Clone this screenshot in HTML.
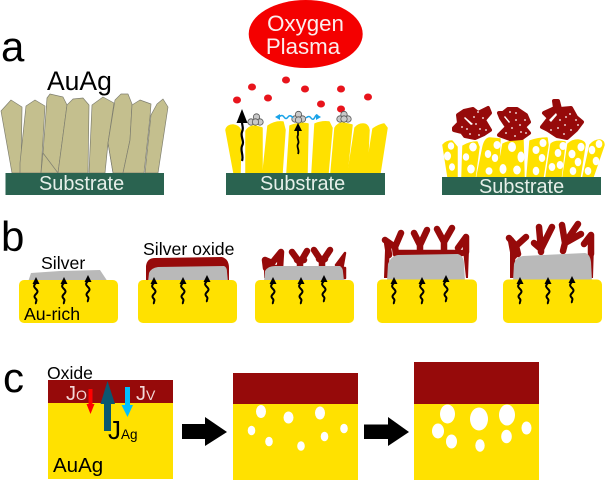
<!DOCTYPE html>
<html>
<head>
<meta charset="utf-8">
<style>
html,body{margin:0;padding:0;background:#fff;width:605px;height:482px;overflow:hidden}
svg{display:block;font-family:"Liberation Sans",sans-serif;filter:blur(0.35px)}
</style>
</head>
<body>
<svg width="605" height="482" viewBox="0 0 605 482" xmlns="http://www.w3.org/2000/svg">
<defs>
<g id="wa">
<path d="M0 6 C-3 9 -2 10 0 12 C2 14 2 15 0 17 C-2 19 -2 20 0 22 C1.500 24 -1 25 0 27" fill="none" stroke="#000" stroke-width="2"/>
<path d="M0 0 L3.500 7 L-3.500 7 Z" fill="#000"/>
</g>
</defs>

<!-- Panel letters -->
<text x="1" y="61" font-size="42">a</text>
<text x="1" y="251" font-size="42">b</text>
<text x="3" y="392" font-size="42">c</text>

<!-- a: left -->
<g fill="#c4bf8e" stroke="#7f7f70" stroke-width="0.700" stroke-linejoin="round">
<polygon points="1,111 11,100 22,107 21,173 12,173"/>
<polygon points="20,163 26,106 35,100 45,106 41,173 20,173"/>
<polygon points="47,98 50,94 63,97 67,105 58,173 41,173 43,153"/>
<polygon points="67,105 73,99 83,98 89,105 88,173 58,173"/>
<polygon points="92,105 103,97 114,103 108,143 105,173 89,173"/>
<polygon points="115,100 121,94 128,94 132,104 130,140 123,173 113,173 108,143"/>
<polygon points="132,105 140,100 151,104 150,117 144,173 123,173 130,140"/>
<polygon points="151,115 157,104 163,99 168,107 158,173 145,173"/>
<path d="M43 153 L58 173 M108 143 L113 173" fill="none"/>
</g>
<text x="47" y="90" font-size="26.500">AuAg</text>
<rect x="5.500" y="173" width="158.500" height="22" fill="#2a6350"/>
<text x="39" y="190" font-size="19.900" fill="#e6efe9">Substrate</text>

<!-- a: middle -->
<ellipse cx="305.700" cy="34" rx="57" ry="34" fill="#f40000"/>
<text x="305.500" y="31" font-size="22.300" fill="#fbeeee" text-anchor="middle">Oxygen</text>
<text x="303" y="54" font-size="22.300" fill="#fbeeee" text-anchor="middle">Plasma</text>
<g fill="#ffe100" stroke="#ffe100" stroke-width="1.500" stroke-linejoin="round">
<path d="M226 130 Q227 125 233 125 Q240 126 241 132 L240 173 L234 173 Z"/>
<path d="M246 131 Q249 126 255 126 L262 128 L262 173 L246 173 Z"/>
<path d="M268 126 Q275 121 283 122 L285 130 L282 173 L263 173 Z"/>
<path d="M290 126 Q300 122 308 124 L307 173 L287 173 Z"/>
<path d="M315 124 Q322 121 329 122 L332 128 L328 173 L312 173 Z"/>
<path d="M335 128 Q338 123 343 123 L352 125 L347 173 L331 173 Z"/>
<path d="M355 128 Q358 124 363 124 Q368 124 369 130 L367 173 L348 173 Z"/>
<path d="M373 129 Q378 125 384 124 L387 128 L380 173 L366 173 Z"/>
</g>
<rect x="226" y="173" width="159" height="22" fill="#2a6350"/>
<text x="260" y="190" font-size="19.900" fill="#e6efe9">Substrate</text>
<g fill="#e8141c">
<ellipse cx="237" cy="100" rx="4" ry="3.500"/>
<ellipse cx="252" cy="87" rx="4" ry="3.500"/>
<ellipse cx="268" cy="98" rx="4" ry="3.500"/>
<ellipse cx="286" cy="80" rx="4" ry="3.500"/>
<ellipse cx="305" cy="89" rx="4" ry="3.500"/>
<ellipse cx="321" cy="104" rx="4" ry="3.500"/>
<ellipse cx="341" cy="89" rx="4" ry="3.500"/>
<ellipse cx="341" cy="109" rx="4" ry="3.500"/>
<ellipse cx="368" cy="97" rx="4" ry="3.500"/>
</g>
<g fill="#c9c9c9" stroke="#555" stroke-width="0.800">
<circle cx="251" cy="122" r="3.200"/><circle cx="256.500" cy="117" r="3.200"/><circle cx="260" cy="122" r="3.200"/><circle cx="255.500" cy="122" r="3.200"/>
<circle cx="295" cy="119" r="3.200"/><circle cx="298.500" cy="114.500" r="3.200"/><circle cx="302.500" cy="119" r="3.200"/><circle cx="298.500" cy="120" r="3.200"/>
<circle cx="340" cy="119" r="3.200"/><circle cx="344" cy="114.500" r="3.200"/><circle cx="348" cy="119" r="3.200"/><circle cx="344" cy="119" r="3.200"/>
</g>
<path d="M242 161 C244 155 240 151 242 146 C245 141 240 137 242 132 C244 128 242 126 242 122" fill="none" stroke="#000" stroke-width="2.200"/>
<polygon points="242,109 247.500,123 236.500,123" fill="#000"/>
<path d="M298 154 C300 150 296 147 298 144 C300 141 296 138 298 135 L298 130" fill="none" stroke="#000" stroke-width="1.800"/>
<polygon points="298,123 302,131 294,131" fill="#000"/>
<g fill="none" stroke="#1aa3e8" stroke-width="1.500">
<path d="M279 117 Q282 114 284 117 T288 117 T293 118"/>
<path d="M306 118 Q309 115 311 118 T315 117 T318 117"/>
</g>
<polygon points="275,117 280,114 280,120" fill="#1aa3e8"/>
<polygon points="321,117 316,114 316,120" fill="#1aa3e8"/>

<!-- a: right -->
<g fill="#ffe100" stroke="#ffe100" stroke-width="1.500" stroke-linejoin="round">
<path d="M443 145 Q446 141 452 141 L457 147 L457 177 L448 177 Z"/>
<path d="M463 146 Q470 142 477 142 L479 147 L475 177 L462 177 Z"/>
<path d="M483 147 Q485 138 490 138 L500 139 L498 177 L477 177 Z"/>
<path d="M503 144 Q512 140 523 140 L524 177 L497 177 Z"/>
<path d="M530 141 Q538 138 547 138 L548 145 L543 177 L527 177 Z"/>
<path d="M551 144 Q555 140 565 142 L561 177 L546 177 Z"/>
<path d="M568 144 Q572 140 578 140 Q585 141 585 145 L580 177 L563 177 Z"/>
<path d="M590 145 Q594 140 600 140 Q604 141 604 145 L593 177 L583 177 Z"/>
</g>
<g fill="#fff">
<ellipse cx="451" cy="146" rx="3.200" ry="3.800"/><ellipse cx="447.500" cy="156" rx="3.500" ry="4.500"/><ellipse cx="452" cy="167" rx="3" ry="3.800"/>
<ellipse cx="473" cy="147" rx="3.800" ry="4.500"/><ellipse cx="466" cy="157" rx="3.200" ry="3.800"/><ellipse cx="471" cy="169" rx="3.800" ry="4.500"/>
<ellipse cx="497" cy="145" rx="3.500" ry="4"/><ellipse cx="488" cy="154" rx="3.200" ry="4"/><ellipse cx="495" cy="158" rx="3.200" ry="4"/><ellipse cx="489" cy="171" rx="3.500" ry="3.800"/>
<ellipse cx="512" cy="147" rx="4" ry="5"/><ellipse cx="521" cy="157" rx="3.500" ry="5.500"/><ellipse cx="503" cy="169" rx="3.500" ry="5"/><ellipse cx="517" cy="170" rx="3.800" ry="4.500"/>
<ellipse cx="536" cy="150" rx="3.500" ry="4"/><ellipse cx="543" cy="143" rx="3.500" ry="4"/><ellipse cx="542" cy="158" rx="3.200" ry="4"/><ellipse cx="536" cy="171" rx="3.300" ry="4.200"/>
<ellipse cx="563" cy="146" rx="3.500" ry="4"/><ellipse cx="558" cy="153" rx="3.300" ry="4"/><ellipse cx="560" cy="165" rx="3.300" ry="4"/><ellipse cx="552" cy="167" rx="3.300" ry="4"/>
<ellipse cx="581" cy="147" rx="3.500" ry="4.300"/><ellipse cx="572" cy="154" rx="3.500" ry="4.300"/><ellipse cx="578" cy="162" rx="3.300" ry="4.300"/><ellipse cx="573" cy="171" rx="3.300" ry="4"/>
<ellipse cx="592" cy="150" rx="3.300" ry="4.300"/><ellipse cx="599" cy="144" rx="3.300" ry="4"/><ellipse cx="596" cy="161" rx="3.300" ry="4.300"/><ellipse cx="588" cy="171" rx="3.300" ry="4"/>
</g>
<rect x="442" y="177" width="159" height="18" fill="#2a6350"/>
<text x="479" y="193" font-size="19.900" fill="#e6efe9">Substrate</text>
<g fill="#960a0a" stroke="#960a0a" stroke-width="4" stroke-linejoin="round">
<polygon points="454,128 459,123 458,115 464,111 473,109 478,113 488,108 490,113 484,120 490,130 484,134 475,138 465,136 462,132 454,130"/>
<polygon points="499,113 503,113 508,109 517,109 526,115 529,122 524,127 529,133 522,138 510,139 499,135 507,127 501,118"/>
<polygon points="554,101 558,101 560,109 571,108 576,117 582,122 576,130 567,138 557,136 548,130 542,127 549,118 544,113 555,108"/>
</g>
<g fill="#fff">
<polygon points="465,117 473,124 471,125 464,118"/>
<polygon points="549,120 556,113 557,115 551,122"/>
<polygon points="505,116 510,122 509,123 504,117"/>
<circle cx="478" cy="112" r="0.900"/><circle cx="483" cy="118" r="0.900"/><circle cx="476" cy="124" r="0.900"/><circle cx="486" cy="130" r="0.900"/><circle cx="470" cy="134" r="0.900"/><circle cx="462" cy="127" r="0.900"/><circle cx="479" cy="135" r="0.900"/><circle cx="467" cy="129" r="0.900"/><circle cx="474" cy="117" r="0.900"/><circle cx="480" cy="129" r="0.900"/>
<circle cx="510" cy="112" r="0.900"/><circle cx="516" cy="120" r="0.900"/><circle cx="516" cy="113" r="0.900"/><circle cx="525" cy="120" r="0.900"/><circle cx="512" cy="128" r="0.900"/><circle cx="521" cy="132" r="0.900"/><circle cx="506" cy="133" r="0.900"/><circle cx="515" cy="136" r="0.900"/><circle cx="526" cy="133" r="0.900"/><circle cx="520" cy="125" r="0.900"/>
<circle cx="570" cy="114" r="0.900"/><circle cx="576" cy="120" r="0.900"/><circle cx="565" cy="125" r="0.900"/><circle cx="571" cy="130" r="0.900"/><circle cx="558" cy="128" r="0.900"/><circle cx="551" cy="130" r="0.900"/><circle cx="564" cy="134" r="0.900"/><circle cx="578" cy="125" r="0.900"/><circle cx="560" cy="120" r="0.900"/><circle cx="566" cy="117" r="0.900"/>
</g>

<!-- b: oxide and silver -->
<!-- 1 -->
<path d="M28 282 L31 273 L60 271 L100 270 L108 282 Z" fill="#b9b9b9"/>
<text x="41" y="269" font-size="17.700">Silver</text>
<!-- 2 -->
<path d="M146 282 L146 266 Q147 258 155 258 L222 257 Q229 259 229 268 L229 282 Z" fill="#960a0a"/>
<path d="M148 282 L149 273 Q151 268 158 267 L224 266 Q227 267 227 272 L228 282 Z" fill="#b9b9b9"/>
<text x="143" y="255" font-size="17.700">Silver oxide</text>
<!-- 3 -->
<g fill="none" stroke="#960a0a" stroke-width="6.500" stroke-linecap="round" stroke-linejoin="round">
<path d="M265 260 L272 263 L281 252 M265 260 L266 268 L280 268 L281 252"/>
<path d="M292 252 L300 263 L307 251 M297 260 L304 260 M300 263 L300 266"/>
<path d="M314 250 L322 262 L330 250 M319 259 L325 259 M322 262 L322 266"/>
</g>
<path d="M345 253 L336 265 L338 268 L345 268 L345 278 L342 278 L342 270 Z" fill="#960a0a" stroke="#960a0a" stroke-width="2.500" stroke-linejoin="round"/>
<path d="M264 278 L264 262 L268 262 L268 278 Z" fill="#960a0a"/>
<path d="M264 281 L265 271 Q268 266 275 266 L340 266 Q343 268 343 272 L344 281 Z" fill="#b9b9b9"/>
<!-- 4 -->
<g fill="none" stroke="#960a0a" stroke-width="6.500" stroke-linecap="round" stroke-linejoin="round">
<path d="M385 240 L395 247 L401 233 M395 247 L396 254 M387 242 L389 255"/>
<path d="M414 233 L420 245 L427 230 M420 245 L420 252"/>
<path d="M437 229 L444 242 L452 228 M444 242 L444 252"/>
<path d="M466 237 L458 248 M466 237 L466 252"/>
<path d="M396 253 L462 253"/>
</g>
<path d="M385 250 L384 278 L388 278 L390 250 Z M463 250 L466 278 L468 278 L469 250 Z" fill="#960a0a"/>
<path d="M387 281 L388 264 Q391 256 398 255 L458 254 Q464 256 464 264 L465 281 Z" fill="#b9b9b9"/>
<!-- 5 -->
<g fill="none" stroke="#960a0a" stroke-width="6.500" stroke-linecap="round" stroke-linejoin="round">
<path d="M509 238 L516 246 L526 237 M516 246 L518 254 M511 240 L514 256"/>
<path d="M534 243 L541 249 L539 227 M541 249 L552 227 M541 249 L541 252"/>
<path d="M562 225 L565 243 L578 224 M565 243 L581 234 M565 243 L563 251"/>
<path d="M591 235 L584 244 M591 235 L591 254"/>
</g>
<path d="M510 250 L510 278 L514 278 L516 250 Z M588 245 L590 278 L593 278 L594 245 Z" fill="#960a0a"/>
<path d="M513 281 L514 264 Q516 257 523 256 L585 253 Q590 254 591 262 L592 281 Z" fill="#b9b9b9"/>

<!-- yellow blocks -->
<g fill="#ffe100">
<rect x="19" y="280" width="99" height="43" rx="5"/>
<rect x="138" y="280" width="99" height="43" rx="5"/>
<rect x="255" y="280" width="99" height="43" rx="5"/>
<rect x="377" y="279.500" width="100" height="43.500" rx="5"/>
<rect x="503" y="279.500" width="99" height="43.500" rx="5"/>
</g>
<text x="24" y="320" font-size="17.700">Au-rich</text>
<use href="#wa" x="36" y="277"/><use href="#wa" x="64" y="277"/><use href="#wa" x="88" y="275"/>
<use href="#wa" x="154" y="277"/><use href="#wa" x="183" y="277"/><use href="#wa" x="207" y="275"/>
<use href="#wa" x="273" y="277"/><use href="#wa" x="301" y="277"/><use href="#wa" x="324" y="275"/>
<use href="#wa" x="394" y="277"/><use href="#wa" x="422" y="277"/><use href="#wa" x="446" y="275"/>
<use href="#wa" x="520" y="277"/><use href="#wa" x="548" y="277"/><use href="#wa" x="572" y="276"/>

<!-- c: box 1 -->
<rect x="48" y="380" width="125" height="24" fill="#960a0a"/>
<rect x="48" y="403" width="125" height="76" fill="#ffe100"/>
<text x="47" y="379" font-size="17.600">Oxide</text>
<text x="66" y="400" font-size="20" fill="#f3d9d9">J<tspan font-size="14">O</tspan></text>
<text x="136" y="400" font-size="20" fill="#f3d9d9">J<tspan font-size="14">V</tspan></text>
<rect x="88.500" y="389" width="4" height="15" fill="#f00"/>
<polygon points="86.500,404 94.500,404 90.500,414" fill="#f00"/>
<rect x="125" y="387" width="5" height="18" fill="#00bfff"/>
<polygon points="121.500,405 133,405 127.500,417" fill="#00bfff"/>
<rect x="104" y="404" width="7" height="27" fill="#0b5770"/>
<polygon points="107.500,381 115,404 100.500,404" fill="#0b5770"/>
<text x="108" y="439" font-size="26">J</text>
<text x="121" y="439" font-size="13.500">Ag</text>
<text x="53" y="472" font-size="20.500">AuAg</text>

<!-- c: arrows -->
<polygon points="182,424 205,424 205,417 227,432 205,446 205,439 182,439" fill="#000"/>
<polygon points="364,424.500 388,424.500 388,417 409,432 388,446 388,439 364,439" fill="#000"/>

<!-- c: box 2 -->
<rect x="233" y="373" width="125" height="32" fill="#960a0a"/>
<rect x="233" y="404" width="125" height="76" fill="#ffe100"/>
<g fill="#fff">
<ellipse cx="261" cy="411.500" rx="5" ry="6.500"/>
<ellipse cx="288.500" cy="417.500" rx="5" ry="6"/>
<ellipse cx="320" cy="413" rx="5" ry="6.500"/>
<ellipse cx="251.500" cy="430.500" rx="3.800" ry="4.800"/>
<ellipse cx="269" cy="441.500" rx="3.800" ry="4.800"/>
<ellipse cx="301" cy="446" rx="3.800" ry="4.800"/>
<ellipse cx="324.500" cy="436.500" rx="3.800" ry="4.800"/>
<ellipse cx="344" cy="428.500" rx="3.800" ry="4.800"/>
</g>

<!-- c: box 3 -->
<rect x="414" y="362" width="125" height="43" fill="#960a0a"/>
<rect x="414" y="404" width="125" height="76" fill="#ffe100"/>
<g fill="#fff">
<ellipse cx="447.500" cy="414" rx="7.500" ry="9.500"/>
<ellipse cx="479" cy="419" rx="9" ry="11.500"/>
<ellipse cx="507" cy="415" rx="8" ry="10.500"/>
<ellipse cx="438" cy="431" rx="6" ry="7.500"/>
<ellipse cx="451.500" cy="441.500" rx="5.500" ry="7"/>
<ellipse cx="480" cy="445.500" rx="4.700" ry="6.200"/>
<ellipse cx="506.500" cy="436.500" rx="5.300" ry="6.800"/>
<ellipse cx="526.500" cy="428" rx="5" ry="6.500"/>
</g>
</svg>
</body>
</html>
